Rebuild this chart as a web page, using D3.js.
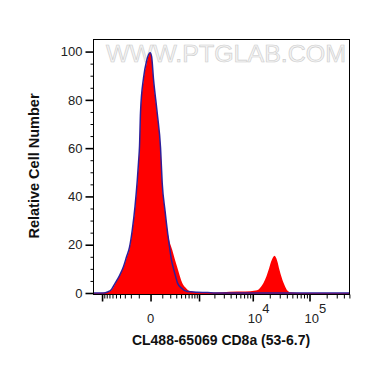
<!DOCTYPE html>
<html>
<head>
<meta charset="utf-8">
<script src="https://cdn.jsdelivr.net/npm/d3@7"></script>
<style>
  body { margin: 0; background: #fff; }
  text { font-family: "Liberation Sans", Arial, sans-serif; }
</style>
</head>
<body>
<div id="chart"></div>
<script>
// Sample (red, filled) histogram: fluorescence value / relative count
const sampleX = [-1480, -1074, -848, -732, -599, -512, -411, -325, -269, -220, -180, -143, -117, -103, -92, -82, -54, -29, -3, 7, 21, 51, 82, 99, 131, 162, 231, 325, 427, 540, 663, 889, 1351, 2104, 3830, 7440, 11220, 12700, 15500, 17570, 19050, 21530, 24300, 26900, 29700, 35100, 39560, 46500, 69600, 502000];
const sampleY = [0, 0, 0.2, 0.5, 1.8, 4, 7, 10.7, 14.5, 18.5, 25.5, 35, 45.5, 53, 60.3, 74, 88, 95, 99.5, 98, 88, 74, 60, 45.5, 34, 25.5, 17.8, 10.2, 4.1, 1.8, 0.7, 0.4, 0.3, 0.2, 0.5, 0.6, 1.0, 1.5, 4.1, 7, 9.5, 13.5, 15.4, 13.5, 9.5, 4.1, 1.5, 0.3, 0, 0];

// Control (blue outline) histogram
const controlX = [-1480, -932, -769, -630, -525, -411, -325, -269, -220, -180, -143, -117, -103, -92, -82, -54, -29, -3, 7, 21, 51, 82, 99, 131, 165, 190, 220, 247, 287, 325, 411, 560, 920, 1478, 2104, 502000];
const controlY = [0, 0, 0.4, 1.5, 4, 7.2, 11, 15, 19, 26, 36, 46.5, 54, 61, 75, 89, 96, 99.5, 98, 88.5, 74.5, 60, 45.5, 34, 24.5, 19, 13.5, 10.5, 7, 4.1, 2, 0.6, 0.3, 0.2, 0, 0];

const xMajorTicks = [-1000, 0, 1000, 10000, 100000];
const xMinorTicks = [-900, -800, -700, -600, -500, -400, -300, -200, -100,
  100, 200, 300, 400, 500, 600, 700, 800, 900,
  2000, 3000, 4000, 5000, 6000, 7000, 8000, 9000,
  20000, 30000, 40000, 50000, 60000, 70000, 80000, 90000,
  200000, 300000, 400000, 500000];
const xLabelValues = [0, 10000, 100000];
const xLabelExps = ["", "4", "5"];

const yMajorTicks = [0, 20, 40, 60, 80, 100];
const yMinorTicks = [5, 10, 15, 25, 30, 35, 45, 50, 55, 65, 70, 75, 85, 90, 95];

const W = 370, H = 367;
const plotLeft = 93.5, plotRight = 349.5, plotTop = 39.5, plotBottom = 294.5;

const svg = d3.select("#chart").append("svg")
  .attr("width", W).attr("height", H);

const x = d3.scaleSymlog().constant(165)
  .domain([-1480, 502000])
  .range([plotLeft, plotRight]);

const y = d3.scaleLinear()
  .domain([0, 105])
  .range([293, plotTop]);

// watermark
svg.append("text")
  .attr("x", 106).attr("y", 62)
  .attr("font-size", 23)
  .attr("textLength", 240)
  .attr("lengthAdjust", "spacingAndGlyphs")
  .attr("fill", "#f4f4f4")
  .attr("stroke", "#cdcdcd")
  .attr("stroke-width", 0.6)
  .text("WWW.PTGLAB.COM");

// filled sample histogram
const sample = sampleX.map((v, i) => [v, sampleY[i]]);
const control = controlX.map((v, i) => [v, controlY[i]]);

svg.append("path")
  .datum(sample)
  .attr("fill", "#ff0000")
  .attr("d", d3.area()
    .x(d => x(d[0]))
    .y0(plotBottom)
    .y1(d => y(d[1]))
    .curve(d3.curveMonotoneX));

svg.append("path")
  .datum(control)
  .attr("fill", "none")
  .attr("stroke", "#2d1f9a")
  .attr("stroke-width", 1.5)
  .attr("d", d3.line()
    .x(d => x(d[0]))
    .y(d => y(d[1]))
    .curve(d3.curveMonotoneX));

// frame
svg.append("rect")
  .attr("x", plotLeft).attr("y", plotTop)
  .attr("width", plotRight - plotLeft).attr("height", plotBottom - plotTop)
  .attr("fill", "none").attr("stroke", "#000");

// x axis ticks
svg.append("g")
  .attr("transform", `translate(0,${plotBottom})`)
  .call(d3.axisBottom(x).tickValues(xMinorTicks).tickSize(4).tickFormat(""))
  .call(g => g.select(".domain").remove());

svg.append("g")
  .attr("transform", `translate(0,${plotBottom})`)
  .call(d3.axisBottom(x).tickValues(xMajorTicks).tickSize(7).tickFormat(""))
  .call(g => g.select(".domain").remove())
  .call(g => g.selectAll("line").attr("stroke-width", 1.6));

// x tick labels
const xl = svg.append("g").selectAll("text")
  .data(xLabelValues)
  .join("text")
  .attr("x", (d, i) => xLabelExps[i] ? x(d) - 5 : x(d))
  .attr("y", 323)
  .attr("font-size", 13)
  .attr("fill", "#222")
  .attr("text-anchor", (d, i) => xLabelExps[i] ? "start" : "middle");
xl.append("tspan").text((d, i) => xLabelExps[i] ? "10" : "0");
xl.append("tspan")
  .attr("dy", -10)
  .attr("font-size", 13)
  .text((d, i) => xLabelExps[i]);

// y axis ticks
svg.append("g")
  .attr("transform", `translate(${plotLeft},0)`)
  .call(d3.axisLeft(y).tickValues(yMinorTicks).tickSize(3).tickFormat(""))
  .call(g => g.select(".domain").remove());

svg.append("g")
  .attr("transform", `translate(${plotLeft},0)`)
  .call(d3.axisLeft(y).tickValues(yMajorTicks).tickSize(8).tickPadding(3))
  .call(g => g.select(".domain").remove())
  .call(g => g.selectAll("line").attr("stroke-width", 1.6))
  .call(g => g.selectAll("text")
    .attr("font-size", 13)
    .attr("fill", "#222")
    .style("font-family", "'Liberation Sans', Arial, sans-serif"));

// axis titles
svg.append("text")
  .attr("x", 221).attr("y", 345)
  .attr("text-anchor", "middle")
  .attr("font-size", 14)
  .attr("font-weight", "bold")
  .attr("fill", "#111")
  .text("CL488-65069 CD8a (53-6.7)");

svg.append("text")
  .attr("transform", "rotate(-90)")
  .attr("x", -166).attr("y", 39)
  .attr("text-anchor", "middle")
  .attr("font-size", 14.5)
  .attr("font-weight", "bold")
  .attr("fill", "#111")
  .text("Relative Cell Number");
</script>
</body>
</html>
